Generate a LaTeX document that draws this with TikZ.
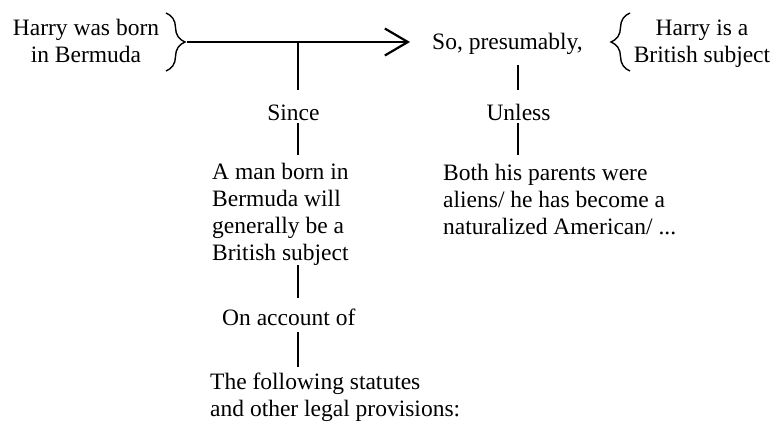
\documentclass[tikz,border=0pt]{standalone}
\usepackage{fontspec}
\setmainfont{Liberation Serif}
\usetikzlibrary{arrows.meta,decorations.pathreplacing}
\begin{document}
\begin{tikzpicture}[x=1pt,y=-1pt,
  txt/.style={inner sep=0pt, font=\fontsize{23.5}{27}\selectfont},
  conn/.style={line width=2.2pt},
  brc/.style={line width=1.4pt, decorate, decoration={brace, amplitude=19pt}}]
\useasboundingbox (0,0) rectangle (773,421);
% nodes
\node[txt, align=center, anchor=north] (data) at (86,15) {\rule{0pt}{20pt}Harry was born\\in Bermuda};
\node[txt, anchor=base west, text depth=16pt] (qual) at (432,49) {So, presumably,};
\node[txt, align=center, anchor=north] (claim) at (702,15) {\rule{0pt}{20pt}Harry is a\\British subject};
\node[txt, anchor=base, text height=30pt, text depth=3pt] (since) at (293.5,120) {Since};
\node[txt, anchor=base, text height=30pt, text depth=3pt] (unless) at (518.5,120) {Unless};
\node[txt, align=left, anchor=north west] (warrant) at (212,155) {\rule{0pt}{24pt}A man born in\\Bermuda will\\generally be a\\British subject};
\node[txt, align=left, anchor=north west] (rebut) at (443,155) {\rule{0pt}{25pt}Both his parents were\\aliens/ he has become a\\naturalized American/ ...};
\node[txt, anchor=base west, text height=27pt, text depth=7pt] (account) at (222,325) {On account of};
\node[txt, align=left, anchor=north west] (grounds) at (210,367) {\rule{0pt}{22pt}The following statutes\\and other legal provisions:};
% coordinates
\coordinate (dtip) at (187,42);
\coordinate (wj) at (298,42);
\coordinate (rj) at (518,42);
\coordinate (lb1) at (166,13);
\coordinate (lb2) at (166,71);
\coordinate (rb1) at (630,71);
\coordinate (rb2) at (630,13);
% braces
\draw[brc] (lb1) -- (lb2);
\draw[brc] (rb1) -- (rb2);
% connectors
\draw[conn, -{Straight Barb[length=23pt,width=27pt]}, shorten >=22pt] (dtip) -- (dtip -| qual.west);
\draw[conn] (wj) -- (wj |- since.north);
\draw[conn] (wj |- since.south) -- (wj |- warrant.north);
\draw[conn] (wj |- warrant.south) -- (wj |- account.north);
\draw[conn] (wj |- account.south) -- (wj |- grounds.north);
\draw[conn] (rj |- qual.south) -- (rj |- unless.north);
\draw[conn] (rj |- unless.south) -- (rj |- rebut.north);
\end{tikzpicture}
\end{document}
